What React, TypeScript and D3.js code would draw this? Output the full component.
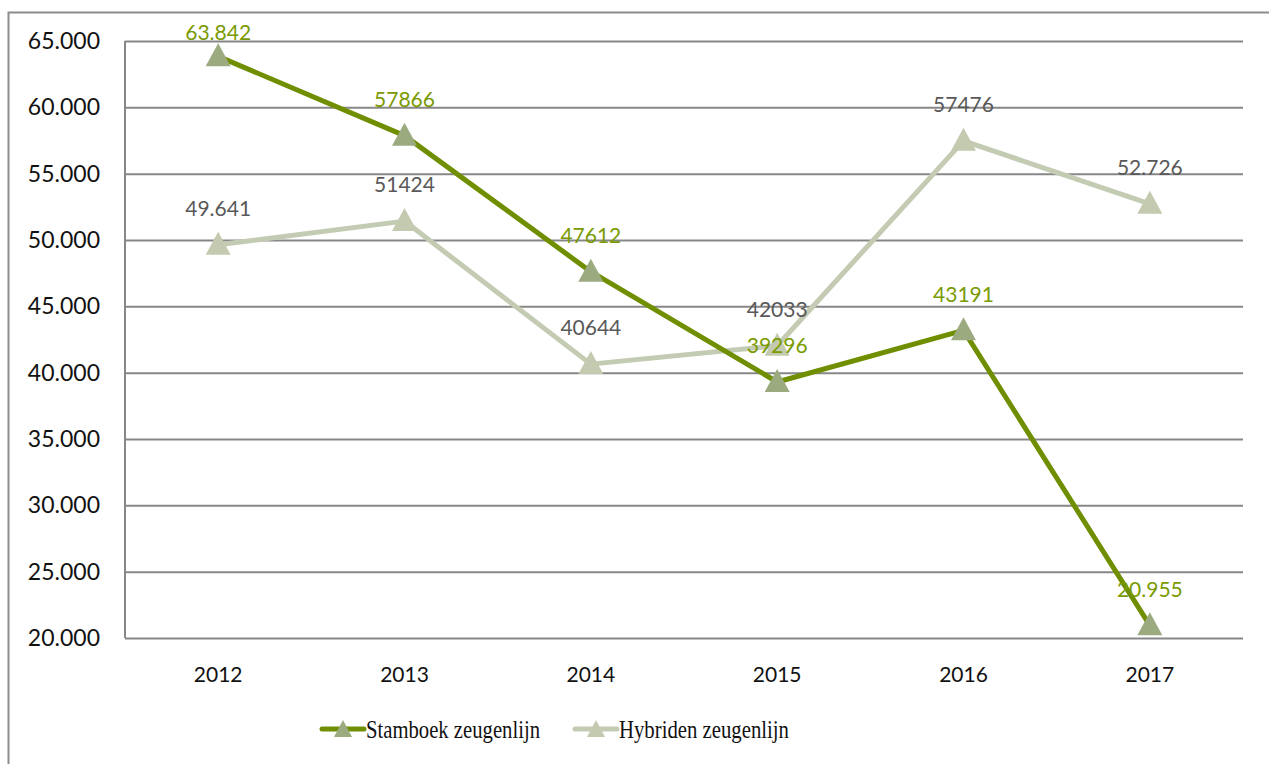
import React, { useEffect, useRef } from "react";
import * as d3 from "d3";

const years = ["2012", "2013", "2014", "2015", "2016", "2017"];
const stamboek = [63842, 57866, 47612, 39296, 43191, 20955];
const hybriden = [49641, 51424, 40644, 42033, 57476, 52726];
// labels as printed in the chart (some with thousands dot, some without)
const stamboekLabels = ["63.842", "57866", "47612", "39296", "43191", "20.955"];
const hybridenLabels = ["49.641", "51424", "40644", "42033", "57476", "52.726"];
const yTicks = [20000, 25000, 30000, 35000, 40000, 45000, 50000, 55000, 60000, 65000];
const seriesNames = ["Stamboek zeugenlijn", "Hybriden zeugenlijn"];

const W = 1269;
const H = 764;
const margin = { top: 41, right: 26, bottom: 126, left: 125 };

const App = () => {
    const svgRef = useRef<SVGSVGElement>(null);

    useEffect(() => {
        document.body.style.margin = "0";
        const svg = d3.select(svgRef.current);
        svg.selectAll("*").remove();

        const innerW = W - margin.left - margin.right;
        const innerH = H - margin.top - margin.bottom;

        // outer chart frame
        svg.append("rect")
            .attr("x", 8.5)
            .attr("y", 12.5)
            .attr("width", W)
            .attr("height", H)
            .attr("fill", "white")
            .attr("stroke", "#8c8c8c")
            .attr("stroke-width", 2);

        const g = svg.append("g").attr("transform", `translate(${margin.left},${margin.top})`);

        const x = d3.scaleBand().domain(years).range([0, innerW]);
        const y = d3.scaleLinear().domain([20000, 65000]).range([innerH, 0]);

        const fmt = (v: number) => d3.format(",.3f")(v / 1000).replace(/,/g, "");

        // y axis + gridlines
        const yAxis = g.append("g").call(
            d3.axisLeft(y).tickValues(yTicks).tickSize(-innerW).tickPadding(25).tickFormat((d) => fmt(+d))
        );
        yAxis.select(".domain").remove();
        yAxis.selectAll(".tick line").attr("stroke", "#878787").attr("stroke-width", 2);
        yAxis.selectAll(".tick text")
            .attr("fill", "#111")
            .attr("font-family", "Lato, sans-serif")
            .attr("font-size", 23);

        g.append("line")
            .attr("x1", 0).attr("x2", 0)
            .attr("y1", 0).attr("y2", innerH)
            .attr("stroke", "#878787").attr("stroke-width", 2);

        // x axis labels
        const xAxis = g.append("g")
            .attr("transform", `translate(0,${innerH})`)
            .call(d3.axisBottom(x).tickSize(0).tickPadding(29));
        xAxis.select(".domain").remove();
        xAxis.selectAll(".tick text")
            .attr("fill", "#111")
            .attr("font-family", "Lato, sans-serif")
            .attr("font-size", 21);

        const cx = (d: string) => (x(d) as number) + x.bandwidth() / 2;
        const tri = "M0,-13L12.5,10L-12.5,10Z";

        const series = [
            { values: hybriden, labels: hybridenLabels, line: "#c4cbb3", marker: "#c3cab0", text: "#595959" },
            { values: stamboek, labels: stamboekLabels, line: "#6f8e00", marker: "#9caa80", text: "#7a9a01" },
        ];

        const line = d3.line<number>()
            .x((_, i) => cx(years[i]))
            .y((d) => y(d));

        series.forEach((s) => {
            g.append("path")
                .datum(s.values)
                .attr("fill", "none")
                .attr("stroke", s.line)
                .attr("stroke-width", 5)
                .attr("stroke-linejoin", "round")
                .attr("d", line);

            g.selectAll(null)
                .data(s.values)
                .join("path")
                .attr("d", tri)
                .attr("fill", s.marker)
                .attr("transform", (d, i) => `translate(${cx(years[i])},${y(d)})`);
        });

        series.forEach((s) => {
            g.selectAll(null)
                .data(s.values)
                .join("text")
                .attr("x", (_, i) => cx(years[i]))
                .attr("y", (d) => Math.max(y(d) - 36, -8))
                .attr("dy", "0.35em")
                .attr("text-anchor", "middle")
                .attr("font-family", "Lato, sans-serif")
                .attr("font-size", 21)
                .attr("fill", s.text)
                .text((_, i) => s.labels[i]);
        });

        // legend
        const legend = svg.append("g").attr("transform", `translate(0,729)`);
        const legendItems = [
            { name: seriesNames[0], x0: 322, len: 174, line: "#6f8e00", marker: "#9caa80" },
            { name: seriesNames[1], x0: 575, len: 170, line: "#c4cbb3", marker: "#c3cab0" },
        ];
        legendItems.forEach((it) => {
            legend.append("line")
                .attr("x1", it.x0).attr("x2", it.x0 + 42)
                .attr("y1", 0).attr("y2", 0)
                .attr("stroke", it.line)
                .attr("stroke-width", 5)
                .attr("stroke-linecap", "round");
            legend.append("path")
                .attr("d", "M0,-10L9,7L-9,7Z")
                .attr("fill", it.marker)
                .attr("transform", `translate(${it.x0 + 21},1)`);
            legend.append("text")
                .attr("x", it.x0 + 44)
                .attr("y", 0)
                .attr("dy", "0.35em")
                .attr("font-family", "'Liberation Serif', serif")
                .attr("font-size", 25)
                .attr("textLength", it.len)
                .attr("lengthAdjust", "spacingAndGlyphs")
                .attr("fill", "#111")
                .text(it.name);
        });
    }, []);

    return <svg ref={svgRef} width={W} height={H} style={{ display: "block" }}></svg>;
};

export default App;
